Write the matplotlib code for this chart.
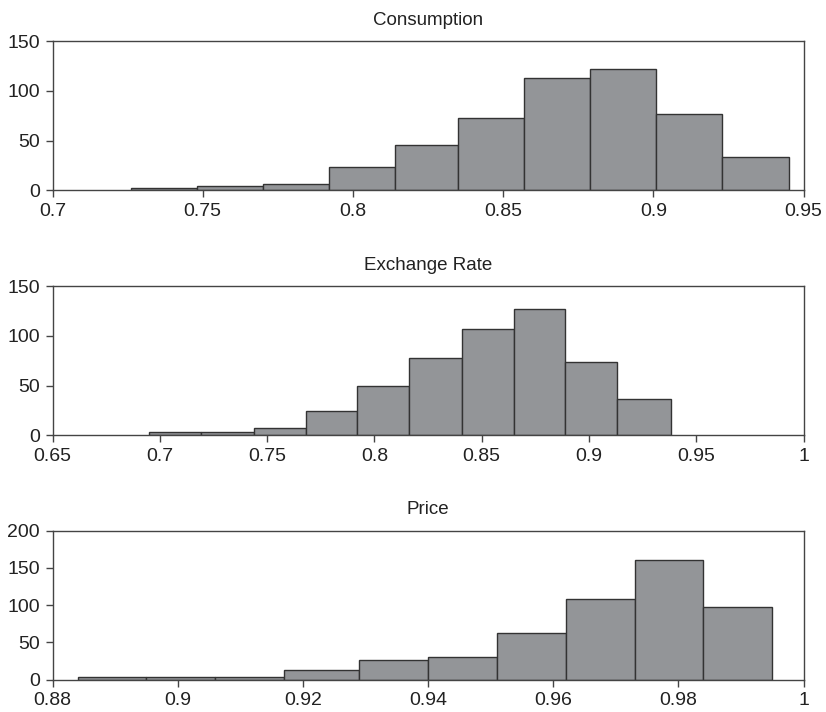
import numpy as np
import matplotlib
matplotlib.use('Agg')
import matplotlib.pyplot as plt
from matplotlib.ticker import FormatStrFormatter

# bin edges and counts
consumption_edges = [0.726, 0.748, 0.770, 0.792, 0.814, 0.835, 0.857, 0.879, 0.901, 0.923, 0.945]
consumption_counts = [2, 4, 6, 23, 46, 73, 113, 122, 77, 34]

exchange_edges = [0.695, 0.719, 0.744, 0.768, 0.792, 0.816, 0.841, 0.865, 0.889, 0.913, 0.938]
exchange_counts = [3, 3, 7, 24, 50, 78, 107, 127, 74, 37]

price_edges = [0.884, 0.895, 0.906, 0.917, 0.929, 0.940, 0.951, 0.962, 0.973, 0.984, 0.995]
price_counts = [4, 4, 3, 13, 26, 30, 62, 108, 161, 97]

titles = ['Consumption', 'Exchange Rate', 'Price']
xticks = [np.arange(0.70, 0.951, 0.05), np.arange(0.65, 1.001, 0.05), np.arange(0.88, 1.001, 0.02)]
yticks = [[0, 50, 100, 150], [0, 50, 100, 150], [0, 50, 100, 150, 200]]

plt.rcParams['font.family'] = ['Liberation Sans', 'DejaVu Sans']

fig = plt.figure(figsize=(8.26, 7.12), dpi=100, facecolor='w')
bottoms = [0.7327, 0.3886, 0.0454]
data = [(consumption_edges, consumption_counts),
        (exchange_edges, exchange_counts),
        (price_edges, price_counts)]

for k, (edges, counts) in enumerate(data):
    ax = fig.add_axes([0.0636, bottoms[k], 0.9093, 0.2093])
    ax.hist(edges[:-1], bins=edges, weights=counts,
            color='#939598', edgecolor='#333333', linewidth=1.0)
    ax.set_xlim(xticks[k][0], xticks[k][-1])
    ax.set_ylim(yticks[k][0], yticks[k][-1])
    ax.set_xticks(xticks[k])
    ax.set_yticks(yticks[k])
    ax.xaxis.set_major_formatter(FormatStrFormatter('%g'))
    ax.set_title(titles[k], fontsize=13.5, color='#222222', pad=12)
    ax.tick_params(axis='both', direction='out', length=5, width=1,
                   color='#444444', labelsize=14, labelcolor='#222222', pad=4)
    for spine in ('top', 'right', 'bottom', 'left'):
        ax.spines[spine].set_color('#444444')
        ax.spines[spine].set_linewidth(1.0)

fig.savefig('out.png', dpi=100)
